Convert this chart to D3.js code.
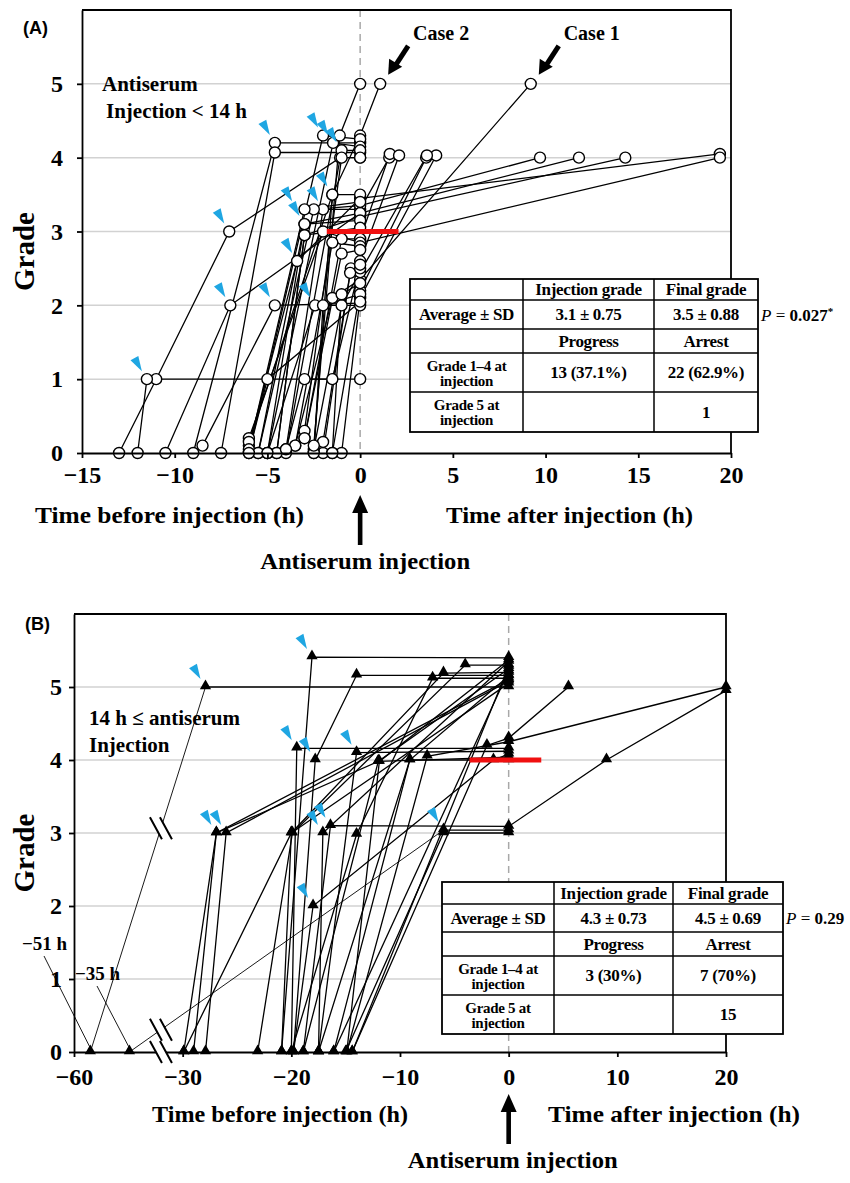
<!DOCTYPE html>
<html>
<head>
<meta charset="utf-8">
<script src="https://cdn.jsdelivr.net/npm/d3@7"></script>
<style>
  body { margin: 0; background: #fff; }
  svg text { font-family: "Liberation Serif", "Times New Roman", Times, serif; fill: #000; }
</style>
</head>
<body>
<svg id="chart" width="850" height="1183"></svg>
<script>
// ---- data (time in h relative to injection, grade) ----
const gradeTicks = [0, 1, 2, 3, 4, 5];
const timeTicksA = [-15, -10, -5, 0, 5, 10, 15, 20];
const timeTicksB = [-40, -30, -20, -10, 0, 10, 20];
const timeTickLabelsB = ["−60", "−30", "−20", "−10", "0", "10", "20"];

// panel A: injection < 14 h after onset
const patientsA = [
  // progressed after injection
  [[-3.5, 0.1], [-1.5, 2.1], [0, 2.35], [9.2, 5]],
  [[-2.5, 0], [-1.5, 3.5], [0, 4.3], [1.08, 5]],
  [[-4, 0.05], [-2, 3.3], [0, 3.3], [1.57, 4.0]],
  [[-3, 0.2], [-1, 2.9], [0, 2.9], [1.6, 4.05]],
  [[-2, 0], [-0.5, 2.5], [0, 2.6], [2.1, 4.03]],
  [[-1.5, 0], [0, 2.2], [3.56, 4.0]],
  [[-1, 0], [0, 2.1], [4.1, 4.03]],
  [[-5.5, 0], [-2.5, 3.3], [0, 3.35], [9.7, 4.0]],
  [[-5, 0], [-3, 3.1], [0, 3.25], [11.8, 4.0]],
  [[-4.5, 0], [-3, 2.95], [0, 3.2], [14.3, 4.0]],
  [[-6, 0.1], [-3.4, 2.6], [0, 3.45], [19.4, 4.05]],
  [[-6, 0.2], [-2, 3.0], [0, 2.85], [19.4, 4.0]],
  [[-2.5, 0.05], [-1, 2.0], [0, 2.45], [3.6, 4.03]],
  // arrested
  [[-13, 0], [-11, 1], [-7.06, 3], [-1.08, 4.0], [0, 4.0]],
  [[-12, 0], [-11.5, 1], [0, 1]],
  [[-10.5, 0], [-7, 2], [0, 3.25]],
  [[-8.5, 0.1], [-4.6, 2], [0, 2.03]],
  [[-9, 0], [-4.6, 4.2], [0, 4.2]],
  [[-7.5, 0], [-4.6, 4.07], [0, 4.07]],
  [[-6, 0], [-2, 4.3], [0, 4.25]],
  [[-5, 0], [-1.46, 4.2], [0, 4.15]],
  [[-4, 0], [-1, 4.1], [0, 4.1]],
  [[-3, 0.3], [-1, 4.0], [0, 4.0]],
  [[-6, 0.15], [-1.5, 3.5], [0, 3.5]],
  [[-6, 0.05], [-3, 3.3], [0, 3.4]],
  [[-5.5, 0], [-3, 3.1], [0, 3.15]],
  [[-4.5, 0], [-3, 2.95], [0, 3.05]],
  [[-3.5, 0.1], [-1.5, 2.85], [0, 2.8]],
  [[-3, 0.2], [-1, 2.7], [0, 2.75]],
  [[-2, 0.15], [-0.54, 2.44], [0, 2.5]],
  [[-5, 0], [-2.43, 2.0], [0, 2.0]],
  [[-2.5, 0], [-2, 2.0], [0, 2.15]],
  [[-1.5, 0], [-1, 2.15], [0, 2.3]],
  [[-6, 0], [-5, 1], [0, 2.05]],
  [[-4, 0.05], [-3, 1], [-1.5, 1], [0, 2.55]],
  // grade 5 at injection
  [[-2.5, 0.1], [-1.1, 4.3], [0, 5.0]]
];
const arrowsA = [[-11.5, 1], [-7.06, 3], [-7, 2], [-4.6, 2], [-4.6, 4.2], [-2, 4.3], [-1.46, 4.2],
  [-1, 4.1], [-1.5, 3.5], [-2, 3.3], [-3.4, 3.3], [-3, 3.1], [-3.4, 2.6], [-2.43, 2.0]];
const redBarA = [-1.8, 2.07, 3.0];
const casesA = [{ name: "Case 2", t: 1.08, g: 5 }, { name: "Case 1", t: 9.2, g: 5 }];

// panel B: injection >= 14 h after onset (left part of axis is broken)
const patientsB = [
  [[-14.9, 0], [-7.5, 4.05], [0, 4.25], [20, 5.0]],
  [[-18.9, 0], [-16.4, 3.1], [0, 3.09], [9, 4.0], [20, 4.95]],
  [[-14.4, 0], [-2, 4.2], [0, 4.3], [5.5, 5.0]],
  [[-20, 0], [-19.5, 4.16], [0, 4.16]],
  [[-17.5, 0], [-14, 4.1], [0, 4.12]],
  [[-29, 0], [-26.9, 3.0], [-12, 3.98], [0, 4.04]],
  [[-16.1, 0], [-9.1, 4.0], [0, 4.0]],
  [[-6, 3.04], [0, 3.04]],
  [[-15, 0], [-6, 3.0], [0, 3.0]],
  [[-19.8, 0], [-18, 2.0], [-1.4, 4.0], [0, 4.08]],
  [[-27.9, 5.0], [0, 5.0]],
  [[-20.9, 0], [-18.1, 5.41], [0, 5.4]],
  [[-19.8, 0], [-17.8, 4.0], [-14, 5.16], [0, 5.16]],
  [[-27.9, 0], [-26, 3.0], [0, 5.08]],
  [[-29.9, 0], [-20, 3.0], [-6, 5.19], [0, 5.2]],
  [[-23.1, 0], [-19.9, 3.0], [-4, 5.3], [0, 5.3]],
  [[-20, 0], [-14, 2.98], [-7, 5.12], [0, 5.12]],
  [[-18.9, 0], [-12, 3.98], [0, 5.25]],
  [[-17.5, 0], [-17.1, 3.0], [0, 5.35]],
  [[-16.1, 0], [0, 5.22]],
  [[-14.4, 0], [0, 5.28]],
  [[-14.9, 0], [-11.9, 3.98], [0, 5.37]],
  [[-20.9, 0], [-20, 3.0], [0, 5.05]],
  [[-17.5, 0], [-9.1, 4.0], [0, 5.15]],
  [[-29.9, 0], [-26.9, 3.0], [0, 5.1]]
];
const farOnsetB = [
  { label: "−51 h", from: [-38.5, 0], to: [-27.9, 5.0] },
  { label: "−35 h", from: [-34.9, 0], to: [-6, 3.04] }
];
const breakAtB = -32;
const arrowsB = [[-27.9, 5.0], [-18.1, 5.41], [-19.5, 4.16], [-17.8, 4.0], [-14, 4.1], [-26.9, 3.0],
  [-26, 3.0], [-17.1, 3.0], [-16.4, 3.1], [-6, 3.04], [-18, 2.0]];
const redBarB = [-3.6, 3.0, 4.0];

// summary tables
const tableA = [
  ["", "Injection grade", "Final grade"],
  ["Average ± SD", "3.1 ± 0.75", "3.5 ± 0.88"],
  ["", "Progress", "Arrest"],
  ["Grade 1–4 at|injection", "13 (37.1%)", "22 (62.9%)"],
  ["Grade 5 at|injection", "", "1"]
];
const tableB = [
  ["", "Injection grade", "Final grade"],
  ["Average ± SD", "4.3 ± 0.73", "4.5 ± 0.69"],
  ["", "Progress", "Arrest"],
  ["Grade 1–4 at|injection", "3 (30%)", "7 (70%)"],
  ["Grade 5 at|injection", "", "15"]
];

const svg = d3.select("#chart");

function drawPanel(p) {
  const g = svg.append("g");
  const x = p.x, y = p.y;
  const [xl, xr] = x.range(), [yb, yt] = y.range();

  // grid + zero line
  g.selectAll(".grid").data(gradeTicks.filter(d => d > 0)).join("line")
    .attr("x1", xl).attr("x2", xr).attr("y1", d => y(d)).attr("y2", d => y(d))
    .attr("stroke", "#d2d2d2").attr("stroke-width", 1.5);
  g.append("line").attr("x1", x(0)).attr("x2", x(0)).attr("y1", yt).attr("y2", yb)
    .attr("stroke", "#a8a8a8").attr("stroke-width", 1.5).attr("stroke-dasharray", "7,5");

  const line = d3.line().x(d => x(d[0])).y(d => y(d[1]));

  if (p.farOnset) {
    g.selectAll(".far").data(p.farOnset).join("path")
      .attr("d", d => line([d.from, d.to])).attr("fill", "none")
      .attr("stroke", "#000").attr("stroke-width", 0.9);
  }

  g.selectAll(".traj").data(p.patients).join("path")
    .attr("d", line).attr("fill", "none").attr("stroke", "#000").attr("stroke-width", 1.3);

  const pts = p.patients.flat().concat(p.farOnset ? p.farOnset.map(d => d.from) : []);
  if (p.symbol === "circle") {
    g.selectAll(".pt").data(pts).join("circle")
      .attr("cx", d => x(d[0])).attr("cy", d => y(d[1])).attr("r", 5.5)
      .attr("fill", "#fff").attr("stroke", "#000").attr("stroke-width", 1.4);
  } else {
    const tri = d3.symbol(d3.symbolTriangle, 55);
    g.selectAll(".pt").data(pts).join("path")
      .attr("d", tri).attr("transform", d => `translate(${x(d[0])},${y(d[1]) - 1})`)
      .attr("fill", "#000");
  }

  // mean-grade red bar
  g.append("line").attr("x1", x(p.redBar[0])).attr("x2", x(p.redBar[1]))
    .attr("y1", y(p.redBar[2])).attr("y2", y(p.redBar[2]))
    .attr("stroke", "#f01010").attr("stroke-width", 5);

  // cyan markers
  g.selectAll(".cy").data(p.arrows).join("path")
    .attr("d", "M-5,-8L-16.4,-18.8L-8.6,-23.2Z")
    .attr("transform", d => `translate(${x(d[0])},${y(d[1])})`)
    .attr("fill", "#1fa6e2");

  // axes and frame
  const ax = g.append("g").attr("transform", `translate(0,${yb})`)
    .call(d3.axisBottom(x).tickValues(p.xTicks).tickSize(5).tickSizeOuter(0).tickPadding(p.xPad)
      .tickFormat(p.xFormat || d3.format("d")));
  const ay = g.append("g").attr("transform", `translate(${xl},0)`)
    .call(d3.axisLeft(y).tickValues(gradeTicks).tickSize(5).tickSizeOuter(0).tickPadding(p.yPad)
      .tickFormat(d3.format("d")));
  [ax, ay].forEach(a => {
    a.selectAll("path, line").attr("stroke", "#000").attr("stroke-width", 1.8);
    a.selectAll("text").style("font-family", '"Liberation Serif", "Times New Roman", serif')
      .style("font-size", "24px").style("font-weight", "bold");
  });
  g.append("path").attr("d", `M${xl},${yt}H${xr}V${yb}`).attr("fill", "none")
    .attr("stroke", "#000").attr("stroke-width", 1.8);

  // axis titles
  g.append("text").attr("transform", `translate(34,${(yt + yb) / 2 + 20}) rotate(-90)`)
    .attr("text-anchor", "middle").style("font-size", "29px").style("font-weight", "bold").text("Grade");
  g.append("text").attr("x", p.beforeX[0]).attr("y", yb + 70)
    .attr("textLength", p.beforeX[1] - p.beforeX[0]).attr("lengthAdjust", "spacingAndGlyphs")
    .style("font-size", "23px").style("font-weight", "bold").text("Time before injection (h)");
  g.append("text").attr("x", p.afterX[0]).attr("y", yb + 70)
    .attr("textLength", p.afterX[1] - p.afterX[0]).attr("lengthAdjust", "spacingAndGlyphs")
    .style("font-size", "23px").style("font-weight", "bold").text("Time after injection (h)");
  const ix = x(0);
  g.append("path").attr("d", `M${ix},${yb + 42}L${ix + 8},${yb + 60}L${ix + 2.3},${yb + 60}L${ix + 2.3},${yb + 92}L${ix - 2.3},${yb + 92}L${ix - 2.3},${yb + 60}L${ix - 8},${yb + 60}Z`)
    .attr("fill", "#000");
  g.append("text").attr("x", ix + p.injShift).attr("y", yb + 116).attr("text-anchor", "middle")
    .attr("textLength", 210).attr("lengthAdjust", "spacingAndGlyphs")
    .style("font-size", "23px").style("font-weight", "bold").text("Antiserum injection");

  // panel letter
  g.append("text").attr("x", p.letterPos[0]).attr("y", p.letterPos[1])
    .style("font-family", '"Liberation Sans", Arial, sans-serif').style("font-size", "18px")
    .style("font-weight", "bold").text(p.letter);

  // subgroup note
  p.note.forEach((t, i) => {
    g.append("text").attr("x", p.notePos[0] + (i ? p.noteIndent : 0)).attr("y", p.notePos[1] + i * 27)
      .style("font-size", "21px").style("font-weight", "bold").text(t);
  });

  drawTable(g, p.table, p.tableCols, p.tableRows, p.pText);
  return g;
}

function drawTable(g, rows, cols, rowsY, pText) {
  const t = g.append("g");
  t.append("rect").attr("x", cols[0]).attr("y", rowsY[0])
    .attr("width", cols[cols.length - 1] - cols[0]).attr("height", rowsY[rowsY.length - 1] - rowsY[0])
    .attr("fill", "#fff").attr("stroke", "#000").attr("stroke-width", 1.8);
  cols.slice(1, -1).forEach(c => t.append("line").attr("x1", c).attr("x2", c)
    .attr("y1", rowsY[0]).attr("y2", rowsY[rowsY.length - 1]).attr("stroke", "#000").attr("stroke-width", 1.5));
  rowsY.slice(1, -1).forEach(r => t.append("line").attr("x1", cols[0]).attr("x2", cols[cols.length - 1])
    .attr("y1", r).attr("y2", r).attr("stroke", "#000").attr("stroke-width", 1.5));
  rows.forEach((row, i) => row.forEach((cell, j) => {
    if (!cell) return;
    const lines = cell.split("|");
    const cx = (cols[j] + cols[j + 1]) / 2, cy = (rowsY[i] + rowsY[i + 1]) / 2;
    lines.forEach((l, k) => {
      t.append("text").attr("x", cx).attr("y", cy + 5.5 + (k - (lines.length - 1) / 2) * 15)
        .attr("text-anchor", "middle").style("font-size", lines.length > 1 ? "15px" : "17px")
        .style("font-weight", "bold").style("letter-spacing", "-0.3px").text(l);
    });
  }));
  const py = (rowsY[1] + rowsY[2]) / 2 + 6;
  const pt = t.append("text").attr("x", cols[cols.length - 1] + 3).attr("y", py)
    .style("font-size", "17px").style("font-weight", "bold");
  pt.append("tspan").style("font-style", "italic").style("font-weight", "normal").text("P");
  pt.append("tspan").style("font-weight", "normal").text(" = ");
  pt.append("tspan").text(pText.replace("*", ""));
  if (pText.includes("*")) pt.append("tspan").attr("dy", -6).style("font-size", "11px").text("*");
}

const xA = d3.scaleLinear().domain([-15, 20]).range([82, 731]);
const yA = d3.scaleLinear().domain([0, 6]).range([453, 10]);
const gA = drawPanel({
  x: xA, y: yA, patients: patientsA, symbol: "circle", arrows: arrowsA, redBar: redBarA,
  xTicks: timeTicksA, xPad: 8, yPad: 14, beforeX: [35, 304], afterX: [446, 693], injShift: 5,
  letter: "(A)", letterPos: [23, 34], note: ["Antiserum", "Injection < 14 h"], notePos: [102, 91], noteIndent: 4,
  table: tableA, tableCols: [410, 523, 654, 758], tableRows: [279, 300, 329, 353, 392, 432], pText: "0.027*"
});

// case annotations
casesA.forEach(c => {
  const px = xA(c.t), py = yA(c.g);
  gA.append("line").attr("x1", px + 28).attr("y1", py - 38).attr("x2", px + 15).attr("y2", py - 18)
    .attr("stroke", "#000").attr("stroke-width", 5);
  gA.append("path").attr("d", `M${px + 8},${py - 9}L${px + 9},${py - 25}L${px + 22},${py - 17}Z`).attr("fill", "#000");
  gA.append("text").attr("x", px + 61).attr("y", py - 44).attr("text-anchor", "middle")
    .style("font-size", "20px").style("font-weight", "bold").text(c.name);
});

const xB = d3.scaleLinear().domain([-40, 20]).range([74, 726]);
const yB = d3.scaleLinear().domain([0, 6]).range([1052, 614]);
const gB = drawPanel({
  x: xB, y: yB, patients: patientsB, farOnset: farOnsetB, symbol: "triangle", arrows: arrowsB, redBar: redBarB,
  xTicks: timeTicksB, xFormat: d => timeTickLabelsB[timeTicksB.indexOf(d)], xPad: 11, yPad: 7,
  beforeX: [152, 408], afterX: [548, 800], injShift: 4,
  letter: "(B)", letterPos: [25, 630], note: ["14  h ≤ antiserum", "Injection"], notePos: [89, 725], noteIndent: 0,
  table: tableB, tableCols: [442, 554, 673, 783], tableRows: [882, 904, 932, 956, 995, 1034], pText: "0.29"
});

// broken-axis marks and far onset labels
function breakMark(cx, cy) {
  const m = gB.append("g").attr("transform", `translate(${cx},${cy})`);
  m.append("path").attr("d", "M-11,-11L1,11L11,11L-1,-11Z").attr("fill", "#fff");
  m.append("path").attr("d", "M-11,-11L1,11M-1,-11L11,11").attr("stroke", "#000").attr("stroke-width", 2);
}
farOnsetB.forEach(d => {
  const f = (breakAtB - d.from[0]) / (d.to[0] - d.from[0]);
  breakMark(xB(breakAtB), yB(d.from[1] + f * (d.to[1] - d.from[1])));
});
breakMark(xB(breakAtB), yB(0));
farOnsetB.forEach((d, i) => {
  const lx = [22, 75][i], ly = [950, 980][i];
  gB.append("text").attr("x", lx).attr("y", ly).style("font-size", "19px").style("font-weight", "bold").text(d.label);
  gB.append("line").attr("x1", lx + 22).attr("y1", ly + 6).attr("x2", xB(d.from[0])).attr("y2", yB(0) - 4)
    .attr("stroke", "#000").attr("stroke-width", 0.9);
});
</script>
</body>
</html>
